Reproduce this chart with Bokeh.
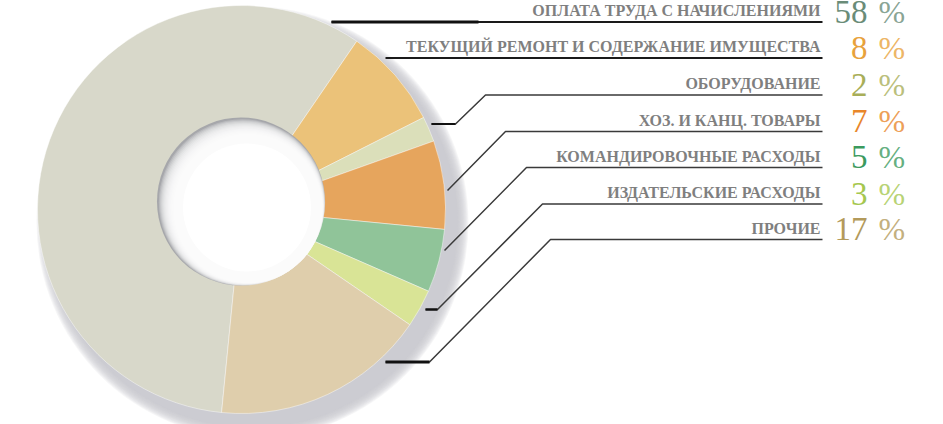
import math
from bokeh.plotting import figure
from bokeh.models import Range1d
from bokeh.core.properties import value
from bokeh.embed import file_html
from bokeh.resources import INLINE

# ---- data ----
categories = ["ОПЛАТА ТРУДА С НАЧИСЛЕНИЯМИ",
              "ТЕКУЩИЙ РЕМОНТ И СОДЕРЖАНИЕ ИМУЩЕСТВА",
              "ОБОРУДОВАНИЕ",
              "ХОЗ. И КАНЦ. ТОВАРЫ",
              "КОМАНДИРОВОЧНЫЕ РАСХОДЫ",
              "ИЗДАТЕЛЬСКИЕ РАСХОДЫ",
              "ПРОЧИЕ"]
shares = [58, 8, 2, 7, 5, 3, 17]
slice_colors = ["#D8D8CA", "#EBC279", "#DBDFBA", "#E6A55D", "#90C499", "#D9E496", "#DFCEAC"]
pct_colors = ["#6A8C78", "#E8A23C", "#A8AE58", "#E8862A", "#3B9A5E", "#A5C74F", "#B39A5B"]

# ---- layout (picture pixel coords; data y = -picture y) ----
W, H = 943, 424
p = figure(width=W, height=H, x_range=Range1d(0, W), y_range=Range1d(-H, 0),
           output_backend="svg", toolbar_location=None, min_border=0,
           x_axis_type=None, y_axis_type=None)
p.outline_line_color = None
p.grid.visible = False
p.background_fill_color = "white"
p.border_fill_color = "white"

CX, CY, R = 241, 209, 204
HX, HY, HR = 240.5, 201, 84
A0 = -95.6  # start angle (deg) of first slice, going clockwise

# outer drop shadow
for k in range(12):
    r = 216 - k * 1.0
    p.circle(x=[252], y=[-222], radius=r, fill_color="#c6c7cb", fill_alpha=0.16, line_color=None)

# pie slices
total = float(sum(shares))
starts, ends = [], []
cum = 0.0
for v in shares:
    starts.append(math.radians(A0 - cum / total * 360))
    cum += v
    ends.append(math.radians(A0 - cum / total * 360))
p.wedge(x=[CX] * len(shares), y=[-CY] * len(shares), radius=R,
        start_angle=starts, end_angle=ends, direction="clock",
        fill_color=slice_colors, line_color="white", line_alpha=0.55, line_width=0.8)

# hole with inner shadow
p.circle(x=[HX], y=[-HY], radius=HR, fill_color="#a6a7ab", line_color=None)
for k in range(14):
    t = k / 13
    off = 1.0 + 6.0 * t
    r = 83.2 - 8.5 * t
    p.circle(x=[HX + off], y=[-(HY + off)], radius=r, fill_color="white", fill_alpha=0.22,
             line_color=None)
p.circle(x=[HX + 6], y=[-(HY + 6)], radius=64, fill_color="white", line_color=None)

# leader lines
UY = [21.5, 57.5, 94.5, 131, 167, 203.5, 239]
RX = 822
p.segment(x0=[331], y0=[-UY[0]], x1=[RX], y1=[-UY[0]], line_color="#1a1a1a", line_width=1.8)
p.segment(x0=[331], y0=[-UY[0]], x1=[478], y1=[-UY[0]], line_color="#111111", line_width=3)
p.segment(x0=[385], y0=[-UY[1]], x1=[RX], y1=[-UY[1]], line_color="#1a1a1a", line_width=2)
paths = [
    ([431, 455, 485, RX], [123.5, 123.5, UY[2], UY[2]]),
    ([447, 505, RX], [190, UY[3], UY[3]]),
    ([444, 526, RX], [250, UY[4], UY[4]]),
    ([425, 437, 542, RX], [309, 309, UY[5], UY[5]]),
    ([385, 429, 550, RX], [361.5, 361.5, UY[6], UY[6]]),
]
p.multi_line(xs=[a for a, b in paths], ys=[[-y for y in b] for a, b in paths],
             line_color="#3a3a3a", line_width=1.5)
stubs = [(431, 455, 123.5, 2.2), (425, 437, 309, 2.4), (385, 429, 361.5, 3.2)]
for x0, x1, y, w in stubs:
    p.segment(x0=[x0], y0=[-y], x1=[x1], y1=[-y], line_color="#111111", line_width=w)

# texts
n = len(categories)
p.text(x=[820] * n, y=[-(u - 5.5 - 6) for u in UY], text=categories,
       text_font=value("Liberation Serif"), text_font_style="bold", text_font_size="16px",
       text_color="#7f7f7f", text_align="right", text_baseline="alphabetic")
p.text(x=[867] * n, y=[-(u + 0.5 - 11) for u in UY], text=[str(v) for v in shares],
       text_font=value("Liberation Serif"), text_font_size="33px",
       text_color=pct_colors, text_align="right", text_baseline="alphabetic")
p.text(x=[878] * n, y=[-(u + 0.5 - 11) for u in UY], text=["%"] * n,
       text_font=value("Liberation Serif"), text_font_size="32px",
       text_color=pct_colors, text_alpha=0.8, text_align="left", text_baseline="alphabetic")

open("out.html", "w").write(file_html(p, INLINE))
